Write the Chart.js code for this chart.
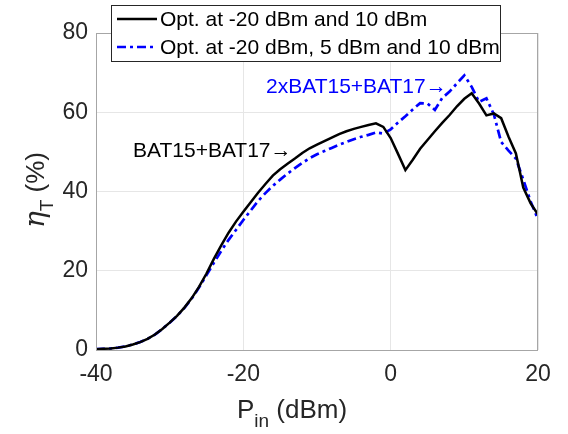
<!DOCTYPE html>
<html>
<head>
<meta charset="utf-8">
<script src="https://cdn.jsdelivr.net/npm/chart.js@4"></script>
<style>
  html, body { margin: 0; padding: 0; background: #fff; }
  #wrap { width: 568px; height: 434px; }
</style>
</head>
<body>
<div id="wrap"><canvas id="effChart" width="568" height="434"></canvas></div>
<script>
// Pin (dBm) sweep, 1 dB steps
const pin = [];
for (let p = -40; p <= 20; p++) pin.push(p);

// Opt. at -20 dBm and 10 dBm (BAT15+BAT17)
const etaTwo = [0.2, 0.3, 0.4, 0.6, 0.9, 1.4, 2.0, 2.8, 3.9, 5.3,
                6.9, 8.6, 10.7, 13.1, 16.0, 19.3, 23.0, 26.4, 29.6, 32.4,
                34.9, 37.3, 39.7, 41.9, 44.0, 45.6, 47.0, 48.3, 49.7, 50.9,
                51.8, 52.7, 53.6, 54.5, 55.2, 55.8, 56.3, 56.8, 57.2, 56.3,
                53.5, 49.5, 45.4, 48.0, 50.8, 53.0, 55.2, 57.3, 59.3, 61.5,
                63.4, 64.8, 62.2, 59.2, 59.7, 58.5, 53.8, 49.6, 41.0, 37.0,
                34.2];

// Opt. at -20 dBm, 5 dBm and 10 dBm (2xBAT15+BAT17)
const etaThree = [0.2, 0.3, 0.4, 0.6, 0.9, 1.4, 2.0, 2.8, 3.9, 5.3,
                  6.9, 8.6, 10.6, 13.0, 15.8, 18.9, 22.0, 25.0, 27.8, 30.3,
                  32.8, 35.2, 37.6, 39.6, 41.4, 43.0, 44.5, 45.9, 47.2, 48.4,
                  49.4, 50.2, 51.0, 51.8, 52.5, 53.2, 53.8, 54.3, 54.9, 54.6,
                  55.7, 57.4, 59.0, 60.7, 62.3, 62.2, 60.6, 63.6, 65.2, 67.3,
                  69.3, 66.4, 62.6, 63.5, 59.5, 52.5, 50.3, 48.3, 43.0, 37.5,
                  33.0];

const xTicks = [-40, -20, 0, 20];
const yTicks = [0, 20, 40, 60, 80];
const seriesNames = ['Opt. at -20 dBm and 10 dBm', 'Opt. at -20 dBm, 5 dBm and 10 dBm'];

const FONT = 'Liberation Sans, Arial, Helvetica, sans-serif';
const TXT = '#262626';

function pts(ys) { return pin.map((x, i) => ({ x: x, y: ys[i] })); }

const decorPlugin = {
  id: 'decor',
  afterDraw(chart) {
    const c = chart.ctx;
    const a = chart.chartArea;
    c.save();
    // axes box
    c.strokeStyle = '#a6a6a6';
    c.lineWidth = 1;
    c.strokeRect(a.left + 0.5, a.top + 0.5, a.right - a.left - 1, a.bottom - a.top);

    // annotations
    c.font = '21px ' + FONT;
    c.textBaseline = 'alphabetic';
    c.fillStyle = '#000';
    c.fillText('BAT15+BAT17\u2192', 133, 157);
    c.fillStyle = '#0000ff';
    c.fillText('2xBAT15+BAT17\u2192', 266, 93);

    // legend
    const lx = 111, ly = 5, lw = 389, lh = 56;
    c.fillStyle = '#fff';
    c.fillRect(lx, ly, lw, lh);
    c.strokeStyle = '#262626';
    c.lineWidth = 1;
    c.strokeRect(lx + 0.5, ly + 0.5, lw, lh);
    const rows = [19, 47];
    chart.data.datasets.forEach((ds, i) => {
      c.beginPath();
      c.strokeStyle = ds.borderColor;
      c.lineWidth = ds.borderWidth;
      c.setLineDash(ds.borderDash || []);
      c.moveTo(117, rows[i]);
      c.lineTo(157, rows[i]);
      c.stroke();
      c.setLineDash([]);
      c.fillStyle = '#000';
      c.font = '21px ' + FONT;
      c.textBaseline = 'middle';
      c.fillText(ds.label, 160, rows[i] + 1);
    });

    // x title: P_in (dBm)
    c.fillStyle = TXT;
    c.textBaseline = 'alphabetic';
    const big = '26px ' + FONT, small = '19px ' + FONT;
    c.font = big;
    const wP = c.measureText('P').width;
    const wRest = c.measureText(' (dBm)').width;
    c.font = small;
    const wSub = c.measureText('in').width;
    let x0 = 292 - (wP + wSub + wRest) / 2;
    c.font = big;
    c.fillText('P', x0, 418);
    c.font = small;
    c.fillText('in', x0 + wP, 427);
    c.font = big;
    c.fillText(' (dBm)', x0 + wP + wSub, 418);

    // y title: eta_T (%)
    c.translate(44, 190);
    c.rotate(-Math.PI / 2);
    const eta = 'italic 28px DejaVu Serif, serif';
    c.font = eta;
    const wE = c.measureText('\u03b7').width;
    c.font = small;
    const wT = c.measureText('T').width;
    c.font = big;
    const wPc = c.measureText(' (%)').width;
    x0 = -(wE + wT + wPc) / 2;
    c.font = eta;
    c.fillText('\u03b7', x0, 0);
    c.font = small;
    c.fillText('T', x0 + wE, 9);
    c.font = big;
    c.fillText(' (%)', x0 + wE + wT, 0);
    c.restore();
  }
};

new Chart(document.getElementById('effChart').getContext('2d'), {
  type: 'line',
  data: {
    datasets: [
      { label: seriesNames[0], data: pts(etaTwo), borderColor: '#000000', borderWidth: 2.5,
        pointRadius: 0, tension: 0, fill: false },
      { label: seriesNames[1], data: pts(etaThree), borderColor: '#0000ff', borderWidth: 2.7,
        borderDash: [9, 4, 3, 4], pointRadius: 0, tension: 0, fill: false }
    ]
  },
  options: {
    responsive: false,
    animation: false,
    devicePixelRatio: 1,
    layout: { padding: { left: 0, right: 30, top: 33, bottom: 0 } },
    plugins: {
      legend: { display: false },
      tooltip: { enabled: false }
    },
    scales: {
      x: {
        type: 'linear',
        min: -40, max: 20,
        afterBuildTicks: s => { s.ticks = xTicks.map(v => ({ value: v })); },
        afterFit: s => { s.height = 84; },
        ticks: { font: { size: 23, family: FONT }, color: TXT, padding: 11, maxRotation: 0 },
        grid: { color: '#e6e6e6', lineWidth: 1, drawTicks: false },
        border: { display: false }
      },
      y: {
        min: 0, max: 80,
        afterBuildTicks: s => { s.ticks = yTicks.map(v => ({ value: v })); },
        afterFit: s => { s.width = 96; },
        ticks: { font: { size: 23, family: FONT }, color: TXT, padding: 8 },
        grid: { color: '#e6e6e6', lineWidth: 1, drawTicks: false },
        border: { display: false }
      }
    }
  },
  plugins: [decorPlugin]
});
</script>
</body>
</html>
